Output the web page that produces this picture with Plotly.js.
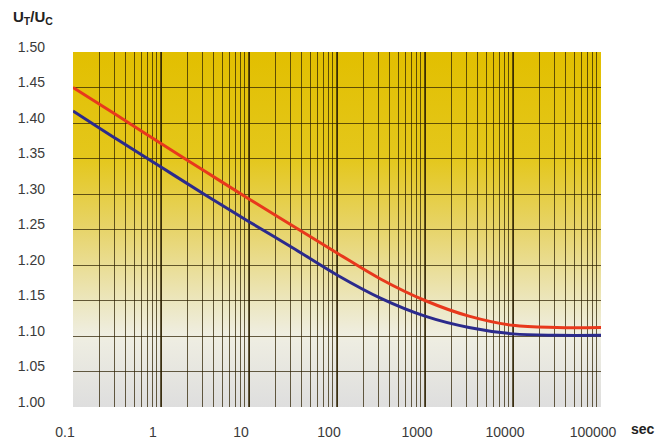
<!DOCTYPE html>
<html>
<head>
<meta charset="utf-8">
<script src="https://cdn.plot.ly/plotly-3.0.1.min.js"></script>
<style>html,body{margin:0;padding:0;background:#fff;}#chart{width:672px;height:439px;}</style>
</head>
<body>
<div id="chart"></div>
<script>
// Time in seconds (log axis)
const timeSec = [0.1, 0.316, 1, 3.16, 10, 31.6, 100, 316, 1000, 3160, 10000, 31600, 100000];
// Upper (red) curve U_T/U_C
const redCurve = [1.450, 1.411, 1.371, 1.332, 1.293, 1.255, 1.217, 1.180, 1.150, 1.128, 1.115, 1.112, 1.112];
// Lower (blue) curve U_T/U_C
const blueCurve = [1.417, 1.377, 1.338, 1.299, 1.261, 1.224, 1.186, 1.153, 1.128, 1.112, 1.103, 1.101, 1.101];
const xTickVals = [0.1, 1, 10, 100, 1000, 10000, 100000];
const xTickText = ['0.1', '1', '10', '100', '1000', '10000', '100000'];
const yTickVals = [1.00, 1.05, 1.10, 1.15, 1.20, 1.25, 1.30, 1.35, 1.40, 1.45, 1.50];
const yTickText = ['1.00', '1.05', '1.10', '1.15', '1.20', '1.25', '1.30', '1.35', '1.40', '1.45', '1.50'];

const gradSvg = '<svg xmlns="http://www.w3.org/2000/svg" width="100" height="400" viewBox="0 0 100 400" preserveAspectRatio="none">' +
  '<defs><linearGradient id="g" x1="0" y1="0" x2="0" y2="1">' +
  '<stop offset="0" stop-color="#e2bf00"/>' +
  '<stop offset="0.3" stop-color="#e4c71c"/>' +
  '<stop offset="0.5" stop-color="#e7d46a"/>' +
  '<stop offset="0.7" stop-color="#ece6bd"/>' +
  '<stop offset="0.8" stop-color="#efeee2"/>' +
  '<stop offset="1" stop-color="#dedede"/>' +
  '</linearGradient></defs><rect x="0" y="0" width="100" height="400" fill="url(#g)"/></svg>';
const gradUri = 'data:image/svg+xml;charset=utf-8,' + encodeURIComponent(gradSvg);

const gridCol = 'rgba(45,32,0,0.72)';
const traces = [
  {x: timeSec, y: redCurve, type: 'scatter', mode: 'lines', line: {color: '#e8381c', width: 3, shape: 'spline'}, hoverinfo: 'skip'},
  {x: timeSec, y: blueCurve, type: 'scatter', mode: 'lines', line: {color: '#2b2a8c', width: 3, shape: 'spline'}, hoverinfo: 'skip'}
];

const layout = {
  width: 672, height: 439,
  margin: {l: 73, r: 71, t: 52, b: 32, pad: 0},
  paper_bgcolor: '#ffffff',
  plot_bgcolor: 'rgba(0,0,0,0)',
  showlegend: false,
  font: {family: 'Liberation Sans, Arial, sans-serif', size: 14, color: '#3a3a3a'},
  images: [{source: gradUri, xref: 'paper', yref: 'paper', x: 0, y: 1, sizex: 1, sizey: 1,
            sizing: 'stretch', xanchor: 'left', yanchor: 'top', layer: 'below'}],
  xaxis: {
    type: 'log', range: [-1, 5], tickvals: xTickVals, ticktext: xTickText,
    showgrid: true, gridcolor: gridCol, gridwidth: 1.4,
    minor: {dtick: 'D1', showgrid: true, gridcolor: gridCol, gridwidth: 1, ticks: ''},
    ticks: '', ticklabelstandoff: 15, ticklabelshift: -8,
    zeroline: false, showline: false, fixedrange: true
  },
  yaxis: {
    range: [1.0, 1.5], tickvals: yTickVals, ticktext: yTickText,
    showgrid: true, gridcolor: gridCol, gridwidth: 1,
    ticks: '', ticklabelstandoff: 27, ticklabelshift: -5,
    zeroline: false, showline: false, fixedrange: true
  },
  annotations: [
    {text: '<b>U<sub>T</sub>/U<sub>C</sub></b>', xref: 'paper', yref: 'paper', x: -0.118, y: 1.065,
     xanchor: 'left', yanchor: 'bottom', showarrow: false, font: {size: 15, color: '#222'}},
    {text: '<b>sec</b>', xref: 'paper', yref: 'paper', x: 1.054, y: -0.062,
     xanchor: 'left', yanchor: 'middle', showarrow: false, borderpad: 0, font: {size: 14, color: '#222'}}
  ]
};

Plotly.newPlot('chart', traces, layout, {displayModeBar: false, staticPlot: true});
</script>
</body>
</html>
